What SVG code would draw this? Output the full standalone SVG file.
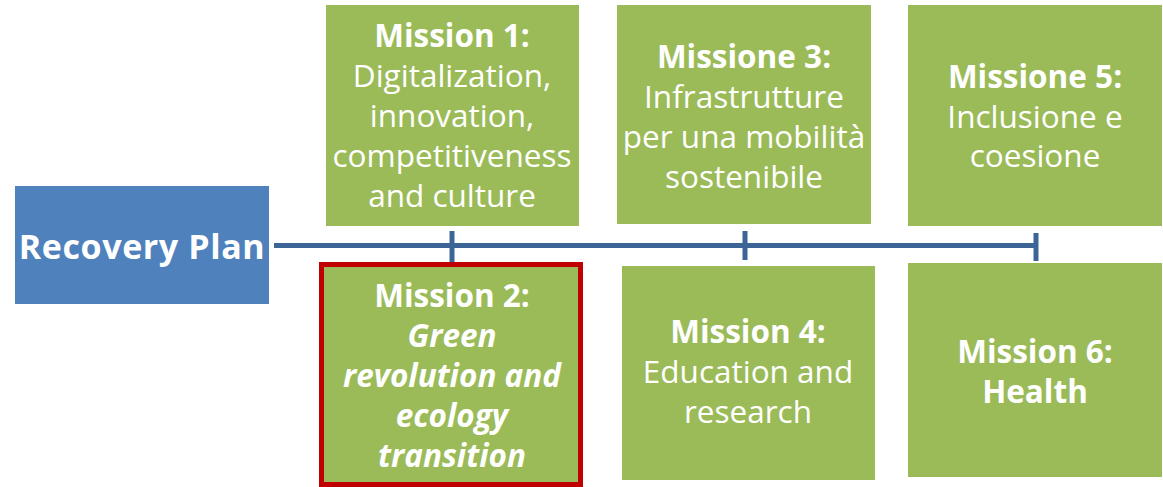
<svg xmlns="http://www.w3.org/2000/svg" width="1163" height="487" viewBox="0 0 1163 487">
<style>
.box{fill:#9BBB59}
.t{font-family:"Open Sans","Liberation Sans",sans-serif;font-size:31.5px;fill:#FFFFFF;text-anchor:middle}
.b{font-weight:bold}
.bi{font-weight:bold;font-style:italic}
.ln{stroke:#3C6497;stroke-width:5;fill:none}
</style>
<rect width="1163" height="487" fill="#FFFFFF"/>
<g id="connectors">
<line class="ln" x1="274" y1="245.5" x2="1036" y2="245.5"/>
<line class="ln" x1="452" y1="231" x2="452" y2="262"/>
<line class="ln" x1="745" y1="231" x2="745" y2="260"/>
<line class="ln" x1="1036" y1="233" x2="1036" y2="261"/>
</g>
<g id="recovery">
<rect x="15" y="186" width="254" height="118" fill="#4F81BD"/>
<text class="t b" x="142" y="259" style="font-size:34px;letter-spacing:0.6px">Recovery Plan</text>
</g>
<g id="m1">
<rect class="box" x="326" y="5" width="253" height="221"/>
<text class="t" x="452"><tspan class="b" x="452" y="47">Mission 1:</tspan><tspan x="452" y="87">Digitalization,</tspan><tspan x="452" y="127">innovation,</tspan><tspan x="452" y="167">competitiveness</tspan><tspan x="452" y="207">and culture</tspan></text>
</g>
<g id="m2">
<rect class="box" x="321.5" y="264.5" width="259" height="220" stroke="#C00000" stroke-width="5"/>
<text class="t" x="452"><tspan class="b" x="452" y="307">Mission 2:</tspan><tspan class="bi" x="452" y="347">Green</tspan><tspan class="bi" x="452" y="387">revolution and</tspan><tspan class="bi" x="452" y="427">ecology</tspan><tspan class="bi" x="452" y="467">transition</tspan></text>
</g>
<g id="m3">
<rect class="box" x="617" y="5" width="254" height="219"/>
<text class="t" x="744"><tspan class="b" x="744" y="68">Missione 3:</tspan><tspan x="744" y="108">Infrastrutture</tspan><tspan x="744" y="148">per una mobilità</tspan><tspan x="744" y="188">sostenibile</tspan></text>
</g>
<g id="m4">
<rect class="box" x="622" y="266" width="253" height="214"/>
<text class="t" x="748"><tspan class="b" x="748" y="343">Mission 4:</tspan><tspan x="748" y="383">Education and</tspan><tspan x="748" y="423">research</tspan></text>
</g>
<g id="m5">
<rect class="box" x="908" y="5" width="254" height="221"/>
<text class="t" x="1035"><tspan class="b" x="1035" y="88">Missione 5:</tspan><tspan x="1035" y="128">Inclusione e</tspan><tspan x="1035" y="167">coesione</tspan></text>
</g>
<g id="m6">
<rect class="box" x="908" y="263" width="254" height="214"/>
<text class="t" x="1035"><tspan class="b" x="1035" y="363">Mission 6:</tspan><tspan class="b" x="1035" y="403">Health</tspan></text>
</g>
</svg>
